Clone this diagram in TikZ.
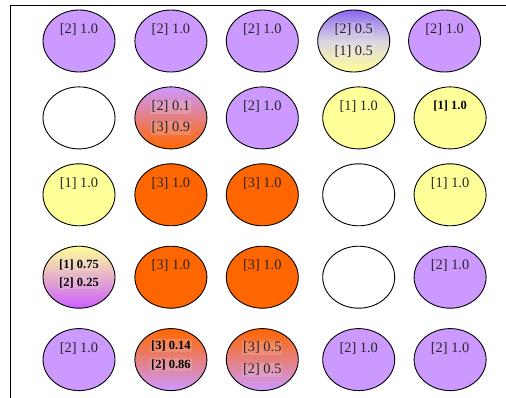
\documentclass[tikz,border=0pt]{standalone}
\usepackage{fontspec}
\setmainfont{Liberation Serif}
\usepackage{tikz}
\usepackage{xcolor}
\usetikzlibrary{positioning,shapes.geometric}
\definecolor{LYellow}{HTML}{FFFF99}
\definecolor{LPurple}{HTML}{CC99FF}
\definecolor{LOrange}{HTML}{FF6600}
\definecolor{LViolet}{HTML}{8A66F0}
\definecolor{LMagenta}{HTML}{CC5EFF}
\definecolor{LMist}{HTML}{DCD4E2}

\begin{document}
\begin{tikzpicture}[
  node distance=14pt and 18.5pt,
  cell/.style={ellipse,draw=black,line width=0.9pt,minimum width=72pt,minimum height=62pt,inner sep=0pt},
  one/.style={cell,fill=LYellow},
  two/.style={cell,fill=LPurple},
  three/.style={cell,fill=LOrange},
  blank/.style={cell,fill=white},
  lbl/.style={font=\fontsize{14.4}{17}\selectfont,text=black!85,inner sep=1pt},
  blbl/.style={font=\fontsize{12.5}{15}\selectfont\bfseries,text=black,inner sep=1pt},
  glab/.style={fill=white,fill opacity=0.15,text opacity=1}
]
\useasboundingbox (0,0) rectangle (506pt,-398pt);
\draw[line width=0.8pt] (10pt,-398pt) -- (10pt,-5pt) -- (506pt,-5pt);

% row 1
\node[two] (a1) at (79pt,-41pt) {};
\node[two,right=19pt of a1] (a2) {};
\node[two,right=of a2] (a3) {};
\node[cell,right=of a3,top color=LViolet,bottom color=LYellow,middle color=LMist] (a4) {};
\node[two,right=18pt of a4] (a5) {};
% row 2
\node[blank,below=of a1] (b1) {};
\node[cell,right=19pt of b1,top color=LPurple,bottom color=LOrange] (b2) {};
\node[two,right=of b2] (b3) {};
\node[one,right=23.5pt of b3] (b4) {};
\node[one,right=of b4] (b5) {};
% row 3
\node[one,below=of b1] (c1) {};
\node[three,right=19pt of c1] (c2) {};
\node[three,right=of c2] (c3) {};
\node[blank,right=23.5pt of c3] (c4) {};
\node[one,right=of c4] (c5) {};
% row 4
\node[cell,below=19.5pt of c1,top color=LYellow,bottom color=LMagenta] (d1) {};
\node[three,right=19pt of d1] (d2) {};
\node[three,right=of d2] (d3) {};
\node[blank,right=23.5pt of d3] (d4) {};
\node[two,right=of d4] (d5) {};
% row 5
\node[two,below=19.5pt of d1] (e1) {};
\node[cell,right=19pt of e1,top color=LOrange,bottom color=LPurple] (e2) {};
\node[cell,right=of e2,top color=LOrange,bottom color=LPurple] (e3) {};
\node[two,right=23.5pt of e3] (e4) {};
\node[two,right=of e4] (e5) {};

% labels
\node[lbl] (a1t) at ([yshift=11.5pt]a1.center) {[2] 1.0};
\node[lbl] (a2t) at ([yshift=11.5pt]a2.center) {[2] 1.0};
\node[lbl] (a3t) at ([yshift=11.5pt]a3.center) {[2] 1.0};
\node[lbl,glab] (a4t) at ([yshift=12pt]a4.center) {[2] 0.5};
\node[lbl,glab] (a4u) at ([yshift=-10pt]a4.center) {[1] 0.5};
\node[lbl] (a5t) at ([yshift=11.5pt]a5.center) {[2] 1.0};

\node[lbl,glab] (b2t) at ([yshift=11pt]b2.center) {[2] 0.1};
\node[lbl,glab] (b2u) at ([yshift=-10pt]b2.center) {[3] 0.9};
\node[lbl] (b3t) at ([yshift=11.5pt]b3.center) {[2] 1.0};
\node[lbl] (b4t) at ([yshift=11.5pt]b4.center) {[1] 1.0};
\node[blbl] (b5t) at ([yshift=12pt]b5.center) {[1] 1.0};

\node[lbl] (c1t) at ([yshift=11.5pt]c1.center) {[1] 1.0};
\node[lbl] (c2t) at ([yshift=11.5pt]c2.center) {[3] 1.0};
\node[lbl] (c3t) at ([yshift=11.5pt]c3.center) {[3] 1.0};
\node[lbl] (c5t) at ([yshift=11.5pt]c5.center) {[1] 1.0};

\node[blbl,glab] (d1t) at ([yshift=12.5pt]d1.center) {[1] 0.75};
\node[blbl,glab] (d1u) at ([yshift=-6pt]d1.center) {[2] 0.25};
\node[lbl] (d2t) at ([yshift=11.5pt]d2.center) {[3] 1.0};
\node[lbl] (d3t) at ([yshift=11.5pt]d3.center) {[3] 1.0};
\node[lbl] (d5t) at ([yshift=11.5pt]d5.center) {[2] 1.0};

\node[lbl] (e1t) at ([yshift=11.5pt]e1.center) {[2] 1.0};
\node[blbl,glab] (e2t) at ([yshift=14pt]e2.center) {[3] 0.14};
\node[blbl,glab] (e2u) at ([yshift=-5pt]e2.center) {[2] 0.86};
\node[lbl,glab] (e3t) at ([yshift=12pt]e3.center) {[3] 0.5};
\node[lbl,glab] (e3u) at ([yshift=-10pt]e3.center) {[2] 0.5};
\node[lbl] (e4t) at ([yshift=11.5pt]e4.center) {[2] 1.0};
\node[lbl] (e5t) at ([yshift=11.5pt]e5.center) {[2] 1.0};
\end{tikzpicture}
\end{document}
